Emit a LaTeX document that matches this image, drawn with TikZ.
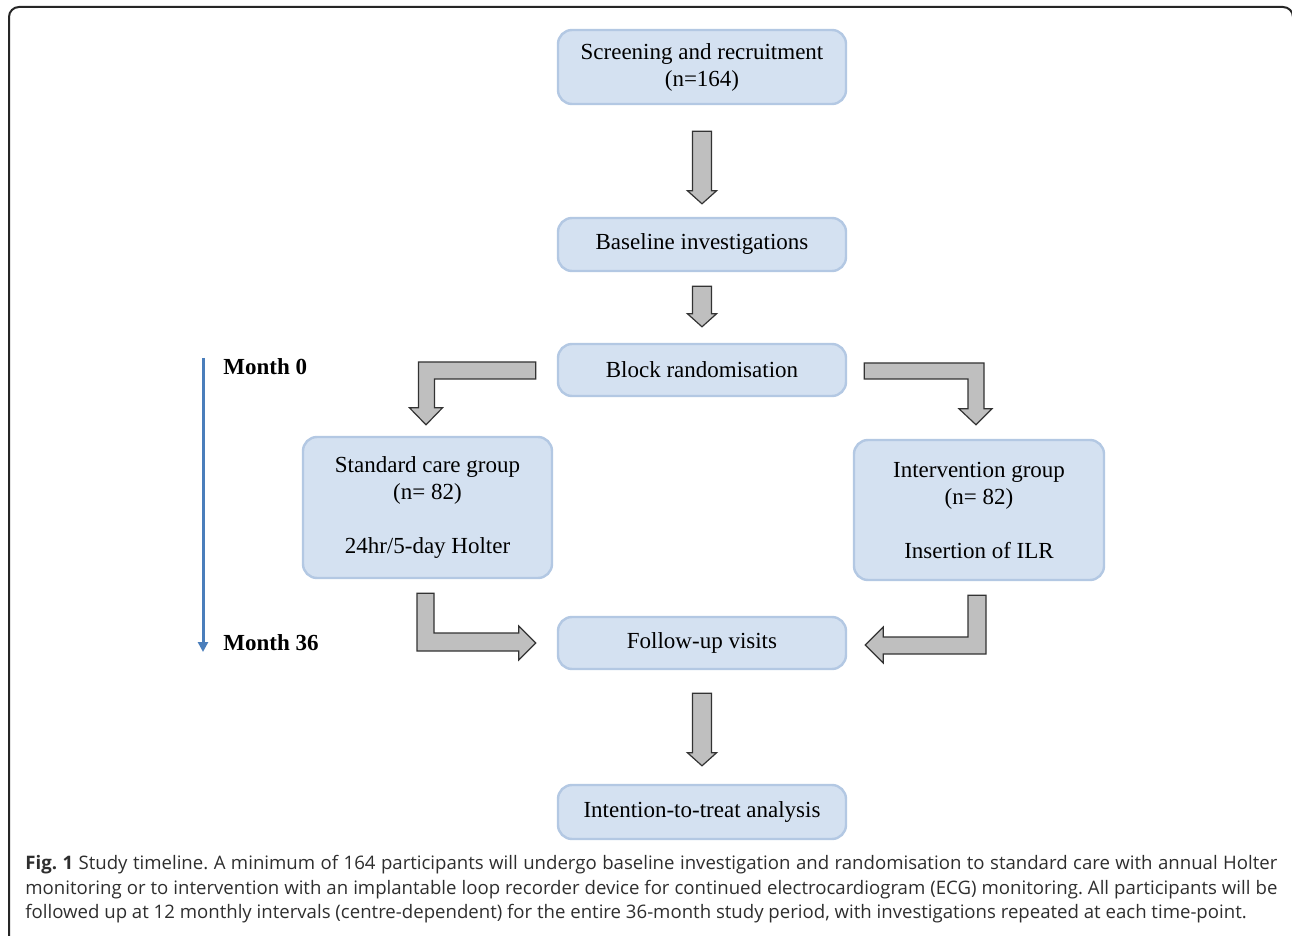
\documentclass[tikz,border=0pt]{standalone}
\usepackage{fontspec}
\setmainfont{Liberation Serif}
\newfontfamily\capfont{Open Sans}
\usetikzlibrary{calc,arrows.meta}
\definecolor{boxfill}{HTML}{D4E1F1}
\definecolor{boxline}{HTML}{B3C8E3}
\definecolor{arrowgray}{HTML}{BFBFBF}
\definecolor{timeblue}{HTML}{4A7EBB}
\definecolor{captext}{HTML}{2E2E2E}
\tikzset{
  stage/.style={draw=boxline, line width=1.2pt, fill=boxfill, rounded corners=7pt,
    minimum width=144pt, align=center, inner sep=0pt,
    font=\fontsize{11.5}{13.5}\selectfont},
  blockarrow/.style={fill=arrowgray, draw=black!80, line width=0.6pt},
  month/.style={anchor=west, inner sep=0pt, font=\fontsize{11.5}{13.5}\selectfont\bfseries}
}
% straight block arrow: top node, bottom node, gap below top, gap above bottom
\newcommand\vblock[4]{%
  \draw[blockarrow] ($(#1.south)+(-9.5,#3)$) -- ($(#1.south)+(9.5,#3)$)
    -- ($(#2.north)+(9.5,-#4-13)$) -- ($(#2.north)+(14.5,-#4-13)$)
    -- ($(#2.north)+(0,-#4)$) -- ($(#2.north)+(-14.5,-#4-13)$)
    -- ($(#2.north)+(-9.5,-#4-13)$) -- cycle;}
\begin{document}
\begin{tikzpicture}[x=0.5pt,y=-0.5pt]
  \useasboundingbox (0,0) rectangle (1292,936);
  \clip (0,0) rectangle (1292,936);
  \draw[line width=1pt, black!85, rounded corners=5pt] (9,7) rectangle (1293,960);

  \node (screen) [stage, minimum height=37pt] at (702,67) {Screening and recruitment\\(n=164)};
  \node (base) [stage, minimum height=26.5pt] at (702,244.5) {Baseline investigations};
  \node (block) [stage, minimum height=26pt] at (702,370) {Block randomisation};
  \node (std) [stage, minimum width=124.5pt, minimum height=70.5pt] at (427.5,507.5)
    {Standard care group\\(n= 82)\\[13.5pt]24hr/5-day Holter};
  \node (intv) [stage, minimum width=125pt, minimum height=70pt] at (979,510)
    {Intervention group\\(n= 82)\\[13.5pt]Insertion of ILR};
  \node (follow) [stage, minimum height=26pt] at (702,643) {Follow-up visits};
  \node (itt) [stage, minimum height=27pt] at (702,812) {Intention-to-treat analysis};

  \vblock{screen}{base}{26}{13}
  \vblock{base}{block}{14}{16}
  \vblock{follow}{itt}{23}{18}

  % bent arrows round the two groups
  \draw[blockarrow] ($(block.west)+(-21,-8)$) -- ($(std.north |- block.west)+(-9,-8)$)
    -- ($(std.north)+(-9,-28)$) -- ($(std.north)+(-18,-28)$) -- ($(std.north)+(-1.5,-11)$)
    -- ($(std.north)+(15,-28)$) -- ($(std.north)+(7,-28)$)
    -- ($(std.north |- block.west)+(7,9)$) -- ($(block.west)+(-21,9)$) -- cycle;
  \draw[blockarrow] ($(block.east)+(17,-7)$) -- ($(intv.north |- block.east)+(5,-7)$)
    -- ($(intv.north)+(5,-30)$) -- ($(intv.north)+(13,-30)$) -- ($(intv.north)+(-3,-14)$)
    -- ($(intv.north)+(-20,-30)$) -- ($(intv.north)+(-11,-30)$)
    -- ($(intv.north |- block.east)+(-11,9)$) -- ($(block.east)+(17,9)$) -- cycle;
  \draw[blockarrow] ($(std.south)+(-10.5,14)$) -- ($(std.south)+(6.5,14)$)
    -- ($(std.south |- follow.west)+(6.5,-10)$) -- ($(follow.west)+(-38,-10)$)
    -- ($(follow.west)+(-38,-17)$) -- ($(follow.west)+(-21,0)$) -- ($(follow.west)+(-38,17)$)
    -- ($(follow.west)+(-38,8)$) -- ($(std.south |- follow.west)+(-10.5,8)$) -- cycle;
  \draw[blockarrow] ($(intv.south)+(7,14)$) -- ($(intv.south)+(-11,14)$)
    -- ($(intv.south |- follow.east)+(-11,-6)$) -- ($(follow.east)+(36,-6)$)
    -- ($(follow.east)+(36,-16)$) -- ($(follow.east)+(18,2)$) -- ($(follow.east)+(36,20)$)
    -- ($(follow.east)+(36,11)$) -- ($(intv.south |- follow.east)+(7,11)$) -- cycle;

  % time line
  \coordinate (t0) at (203,358);
  \coordinate (t36) at (203,652);
  \draw[timeblue, line width=1.5pt, -{Triangle[width=5pt,length=5pt]}] (t0) -- (t36);
  \node (m0) [month] at (223,367) {Month 0};
  \node (m36) [month] at (223,643) {Month 36};

  \node (cap) [anchor=north west, text width=626pt, align=justify, inner sep=0pt,
    text=captext, font=\capfont\fontsize{9.3}{12.3}\selectfont\frenchspacing] at (25,855)
    {\textbf{Fig. 1} Study timeline. A minimum of 164 participants will undergo baseline investigation and randomisation to standard care with annual Holter\linebreak
    monitoring or to intervention with an implantable loop recorder device for continued electrocardiogram (ECG) monitoring. All participants will be\linebreak
    followed up at 12 monthly intervals (centre-dependent) for the entire 36-month study period, with investigations repeated at each time-point.};
\end{tikzpicture}
\end{document}
